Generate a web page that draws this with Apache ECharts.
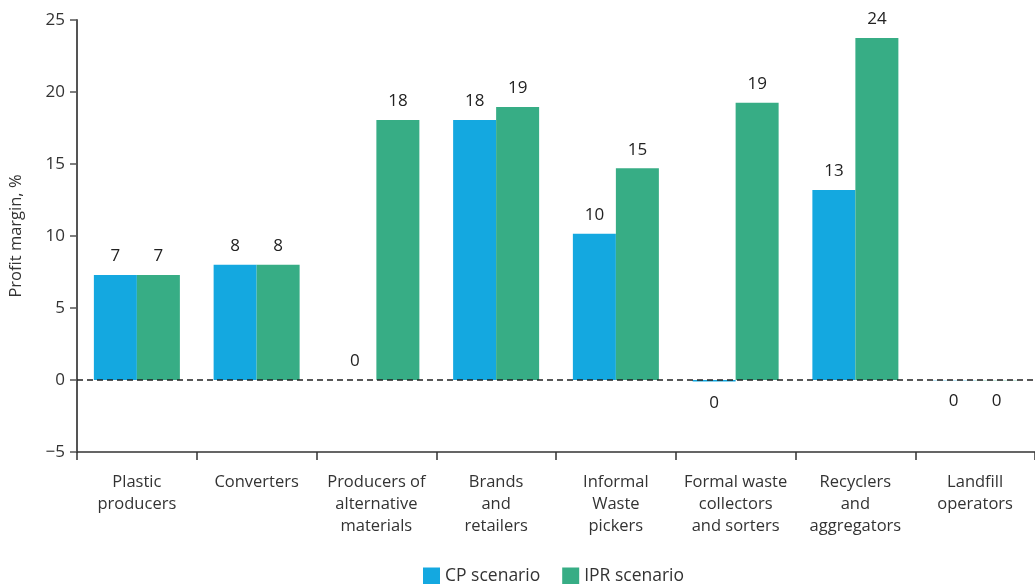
<!DOCTYPE html>
<html>
<head>
<meta charset="utf-8">
<script src="https://cdn.jsdelivr.net/npm/echarts@6/dist/echarts.min.js"></script>
<style>
html,body{margin:0;padding:0;background:#fff;}
#chart{width:1035px;height:584px;}
</style>
</head>
<body>
<div id="chart"></div>
<script>
const categories = [
  "Plastic\nproducers",
  "Converters",
  "Producers of\nalternative\nmaterials",
  "Brands\nand\nretailers",
  "Informal\nWaste\npickers",
  "Formal waste\ncollectors\nand sorters",
  "Recyclers\nand\naggregators",
  "Landfill\noperators"
];
const cpScenario  = [7.3, 8.0, 0, 18.05, 10.15, -0.1, 13.2, -0.01];
const iprScenario = [7.3, 8.0, 18.05, 18.95, 14.7, 19.25, 23.75, -0.01];
const seriesNames = ["CP scenario", "IPR scenario"];
const yTicks = { min: -5, max: 25, interval: 5 };

const FONT = "'Open Sans', sans-serif";
const colors = ["#14A8E0", "#37AD85"];

function toData(values) {
  return values.map(v => v < 0
    ? { value: v, label: { position: "bottom", distance: 13 } }
    : v);
}
const labelCfg = {
  show: true,
  position: "top",
  distance: 10,
  color: "#222",
  fontFamily: FONT,
  fontSize: 17,
  formatter: p => String(Math.round(p.value) === 0 ? 0 : Math.round(p.value))
};

const chart = echarts.init(document.getElementById("chart"), null, { renderer: "canvas" });
chart.setOption({
  animation: false,
  color: colors,
  textStyle: { fontFamily: FONT },
  grid: { left: 77, right: -2, top: 20, bottom: 132, containLabel: false },
  legend: {
    bottom: -6,
    left: 418,
    itemWidth: 17,
    itemHeight: 17,
    itemGap: 22,
    icon: "rect",
    textStyle: { fontFamily: FONT, fontSize: 17.5, color: "#333" },
    data: seriesNames
  },
  xAxis: {
    type: "category",
    data: categories,
    axisLine: { onZero: false, lineStyle: { color: "#333", width: 1.5 } },
    axisTick: { show: true, length: 8, lineStyle: { color: "#333", width: 1.5 } },
    axisLabel: { color: "#333", fontFamily: FONT, fontSize: 16.5, lineHeight: 22, margin: 19, interval: 0 }
  },
  yAxis: {
    type: "value",
    min: yTicks.min, max: yTicks.max, interval: yTicks.interval,
    name: "Profit margin, %",
    nameLocation: "middle",
    nameGap: 52,
    nameTextStyle: { color: "#333", fontFamily: FONT, fontSize: 16.5 },
    axisLine: { show: true, lineStyle: { color: "#555", width: 2 } },
    axisTick: { show: true, length: 7, lineStyle: { color: "#555", width: 1.5 } },
    axisLabel: { color: "#333", fontFamily: FONT, fontSize: 17, margin: 12,
      formatter: v => v < 0 ? "\u2212" + Math.abs(v) : String(v) },
    splitLine: { show: false }
  },
  series: [
    {
      name: seriesNames[0], type: "bar", barWidth: 43, barGap: "0%",
      data: toData(cpScenario), label: labelCfg,
      markLine: {
        silent: true, symbol: "none", label: { show: false },
        lineStyle: { color: "#222", type: [6, 4], width: 1.5 },
        data: [{ yAxis: 0 }], z: 10
      }
    },
    {
      name: seriesNames[1], type: "bar", barWidth: 43, barGap: "0%",
      data: toData(iprScenario), label: labelCfg
    }
  ]
});
</script>
</body>
</html>
